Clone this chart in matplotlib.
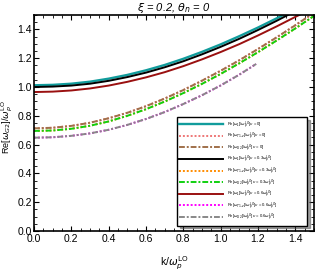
import matplotlib
matplotlib.use("Agg")
import matplotlib.pyplot as plt
from matplotlib.ticker import MultipleLocator

plt.rcParams['font.family'] = ['Liberation Sans', 'DejaVu Sans']
plt.rcParams['mathtext.fontset'] = 'dejavusans'

# k / omega_p^LO sample points
k = [0.0, 0.1, 0.2, 0.3, 0.4, 0.5, 0.6, 0.7, 0.8, 0.9, 1.0, 1.1, 1.2, 1.3, 1.4, 1.5]
k_short = [0.0, 0.1, 0.2, 0.3, 0.4, 0.5, 0.6, 0.7, 0.8, 0.9, 1.0, 1.1, 1.19]

# omega_L branch, nu = 0, 0.3, 0.6
wL_0 = [1.012, 1.015, 1.023, 1.037, 1.058, 1.084, 1.116, 1.153, 1.196, 1.244, 1.296, 1.353, 1.413, 1.477, 1.544, 1.61]
wL_03 = [1.000, 1.003, 1.010, 1.023, 1.043, 1.069, 1.100, 1.137, 1.179, 1.227, 1.279, 1.335, 1.396, 1.460, 1.527, 1.59]
wL_06 = [0.965, 0.968, 0.976, 0.990, 1.010, 1.036, 1.067, 1.103, 1.145, 1.192, 1.243, 1.298, 1.358, 1.421, 1.487, 1.55]

# transverse / G2 branches (they coincide for each nu)
wT_0 = [0.713, 0.717, 0.730, 0.752, 0.783, 0.821, 0.867, 0.920, 0.979, 1.044, 1.113, 1.186, 1.264, 1.345, 1.429, 1.516]
wT_03 = [0.695, 0.698, 0.710, 0.731, 0.761, 0.800, 0.846, 0.899, 0.958, 1.022, 1.091, 1.165, 1.242, 1.323, 1.407, 1.494]
wT_06 = [0.648, 0.651, 0.661, 0.678, 0.703, 0.737, 0.778, 0.826, 0.882, 0.943, 1.011, 1.086, 1.160]

unit = r'/$\omega_p^{LO}$'
labels = [
    r'Re[$\omega_L$]' + unit + r'[$\nu$ = 0]',
    r'Re[$\omega_{T1,z}$]' + unit + r'[$\nu$ = 0]',
    r'Re[$\omega_{G2}$]' + unit + r'[$\nu$ = 0]',
    r'Re[$\omega_L$]' + unit + r'[$\nu$ = 0.3$\omega_p^{LO}$]',
    r'Re[$\omega_{T1,z}$]' + unit + r'[$\nu$ = 0.3$\omega_p^{LO}$]',
    r'Re[$\omega_{G2}$]' + unit + r'[$\nu$ = 0.3$\omega_p^{LO}$]',
    r'Re[$\omega_L$]' + unit + r'[$\nu$ = 0.6$\omega_p^{LO}$]',
    r'Re[$\omega_{T1,z}$]' + unit + r'[$\nu$ = 0.6$\omega_p^{LO}$]',
    r'Re[$\omega_{G2}$]' + unit + r'[$\nu$ = 0.6$\omega_p^{LO}$]',
]

fig = plt.figure(figsize=(3.16, 2.73), dpi=100)
ax = fig.add_axes([0.1076, 0.1538, 0.8861, 0.7912])

lw = 1.4
ax.plot(k, wL_0, color='#119c9c', lw=lw + 0.3, label=labels[0])
ax.plot(k, wT_0, color='#ee7777', lw=lw, ls=(0, (1, 1)), label=labels[1])
ax.plot(k, wT_0, color='#a0704a', lw=lw, ls=(0, (3, 1, 1, 1)), label=labels[2])
ax.plot(k, wL_03, color='black', lw=lw, label=labels[3])
ax.plot(k, wT_03, color='#ff8c00', lw=lw, ls=(0, (1, 1)), label=labels[4])
ax.plot(k, wT_03, color='#10d010', lw=lw, ls=(0, (3, 1, 1, 1)), label=labels[5])
ax.plot(k, wL_06, color='#9a1010', lw=lw, label=labels[6])
ax.plot(k_short, wT_06, color='#ff00ff', lw=lw, ls=(0, (1, 1)), label=labels[7])
ax.plot(k_short, wT_06, color='#888888', lw=lw, ls=(0, (3, 1, 1, 1)), label=labels[8])

ax.set_xlim(0, 1.5)
ax.set_ylim(0, 1.5)
ax.xaxis.set_major_locator(MultipleLocator(0.2))
ax.yaxis.set_major_locator(MultipleLocator(0.2))
ax.xaxis.set_minor_locator(MultipleLocator(0.05))
ax.yaxis.set_minor_locator(MultipleLocator(0.05))
ax.xaxis.set_major_formatter(plt.FuncFormatter(lambda v, p: '%.1f' % v))
ax.yaxis.set_major_formatter(plt.FuncFormatter(lambda v, p: '%.1f' % v))
ax.tick_params(which='both', direction='in', top=True, right=True, labelsize=7.5, pad=1.5)
ax.tick_params(axis='x', which='major', pad=2.5)
ax.tick_params(which='major', length=3.5, width=0.8)
ax.tick_params(which='minor', length=2, width=0.6)
for s in ax.spines.values():
    s.set_linewidth(1.2)

ax.set_title(r'$\xi$ = 0.2, $\theta_n$ = 0', fontsize=8, style='italic', pad=2)
ax.set_xlabel(r'k/$\omega_p^{\rm LO}$', fontsize=7.5)
ax.xaxis.set_label_coords(0.5, -0.11)
ax.set_ylabel(r'Re[$\omega_{G2}$]/$\omega_p^{\rm LO}$', fontsize=6.5)
ax.yaxis.set_label_coords(-0.068, 0.48)

leg = ax.legend(loc='upper left', bbox_to_anchor=(0.511, 0.079, 0.464, 0.449),
                mode='expand', fontsize=3.0,
                handlelength=10.5, handletextpad=0.9, labelspacing=0.0,
                borderpad=0.5, borderaxespad=0, fancybox=False, shadow=True,
                framealpha=1, edgecolor='black')
leg.get_frame().set_linewidth(1.0)

fig.savefig('out.png', dpi=100)
